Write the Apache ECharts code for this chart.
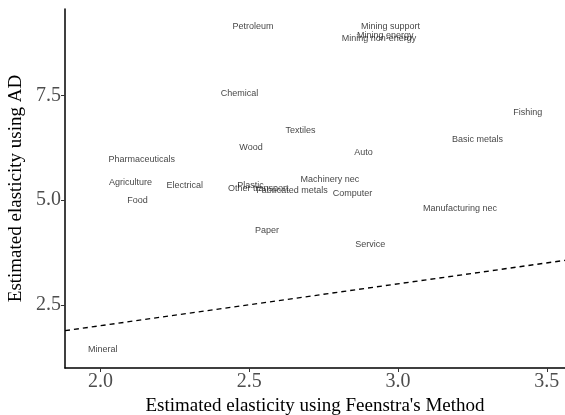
<!DOCTYPE html>
<html><head><meta charset="utf-8">
<script src="https://cdn.jsdelivr.net/npm/echarts@6/dist/echarts.min.js"></script>
<style>html,body{margin:0;padding:0;background:#fff}#c{width:565px;height:415px}</style>
</head><body><div id="c"></div>
<script>
const sectors = ["Petroleum","Mining support","Mining energy","Mining non-energy","Chemical","Textiles","Wood","Auto","Fishing","Basic metals","Pharmaceuticals","Agriculture","Electrical","Food","Plastic","Other transport","Fabricated metals","Machinery nec","Computer","Manufacturing nec","Paper","Service","Mineral"];
const feenstra = [2.513,2.975,2.957,2.936,2.467,2.672,2.506,2.884,3.436,3.267,2.139,2.101,2.283,2.125,2.504,2.530,2.644,2.771,2.847,3.208,2.560,2.907,2.008];
const adElast = [9.14,9.16,8.94,8.86,7.54,6.66,6.26,6.15,7.09,6.46,5.96,5.43,5.34,4.99,5.35,5.27,5.22,5.49,5.16,4.80,4.28,3.94,1.43];
const xTicks = [2.0,2.5,3.0,3.5];
const yTicks = [2.5,5.0,7.5];
const xRange = [1.881,3.561];
const yRange = [0.988,9.57];
const refLine = [xRange[0], xRange[1]];

const chart = echarts.init(document.getElementById('c'));
const serif = '"Liberation Serif","Times New Roman",serif';
chart.setOption({
  animation:false,
  grid:{left:65,right:0,top:9,bottom:47,outerBoundsMode:'none',containLabel:false},
  xAxis:{type:'value',min:xRange[0],max:xRange[1],
    name:"Estimated elasticity using Feenstra's Method",nameLocation:'middle',nameGap:27,
    nameTextStyle:{fontFamily:serif,fontSize:19,color:'#000'},
    axisLine:{onZero:false,lineStyle:{color:'#000',width:1.5}},
    axisTick:{customValues:xTicks,length:4,lineStyle:{color:'#333',width:1}},
    axisLabel:{customValues:xTicks,formatter:v=>v.toFixed(1),fontFamily:serif,fontSize:20,color:'#4d4d4d',margin:4},
    splitLine:{show:false}},
  yAxis:{type:'value',min:yRange[0],max:yRange[1],
    name:"Estimated elasticity using AD",nameLocation:'middle',nameGap:38,
    nameTextStyle:{fontFamily:serif,fontSize:19,color:'#000'},
    axisLine:{show:true,onZero:false,lineStyle:{color:'#000',width:1.5}},
    axisTick:{show:true,customValues:yTicks,length:4,lineStyle:{color:'#333',width:1}},
    axisLabel:{customValues:yTicks,formatter:v=>v.toFixed(1),fontFamily:serif,fontSize:20,color:'#4d4d4d',margin:4},
    splitLine:{show:false}},
  series:[
    {type:'line',data:refLine.map(v=>[v,v]),symbol:'none',silent:true,
     lineStyle:{color:'#000',width:1.4,type:[5,4]}},
    {type:'scatter',symbolSize:0,
     data:sectors.map((n,i)=>({name:n,value:[feenstra[i],adElast[i]]})),
     label:{show:true,position:'inside',formatter:p=>p.name,fontFamily:'"Liberation Sans",Arial,sans-serif',fontSize:9,color:'#111'}}
  ]
});
</script></body></html>
